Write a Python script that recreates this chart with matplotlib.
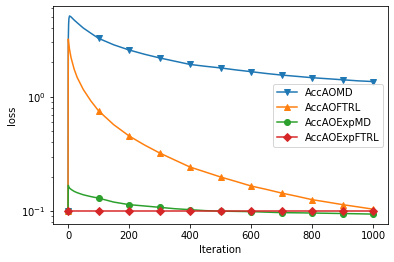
import matplotlib
matplotlib.use('Agg')
import matplotlib.pyplot as plt

iters = [0, 1, 2, 3, 5, 10, 20, 30, 50, 75, 100, 150, 200, 250, 300, 350, 400,
         450, 500, 550, 600, 650, 700, 750, 800, 850, 900, 950, 1000]

acc_aomd = [0.1, 3.2, 4.3, 4.85, 5.1, 5.0, 4.7, 4.45, 4.0, 3.6, 3.25, 2.85, 2.57,
            2.36, 2.19, 2.05, 1.92, 1.85, 1.79, 1.72, 1.66, 1.6, 1.55, 1.51,
            1.47, 1.44, 1.41, 1.38, 1.36]
acc_aoftrl = [0.1, 3.2, 3.0, 2.85, 2.6, 2.2, 1.75, 1.48, 1.16, 0.92, 0.755, 0.57,
              0.455, 0.38, 0.323, 0.28, 0.243, 0.22, 0.199, 0.182, 0.166, 0.155,
              0.144, 0.135, 0.126, 0.12, 0.114, 0.109, 0.104]
acc_aoexpmd = [0.1, 0.168, 0.165, 0.162, 0.159, 0.155, 0.149, 0.145, 0.139, 0.134,
               0.130, 0.12, 0.114, 0.111, 0.108, 0.105, 0.103, 0.101, 0.100,
               0.0995, 0.099, 0.098, 0.097, 0.0967, 0.0963, 0.0958, 0.0953,
               0.0948, 0.0942]
acc_aoexpftrl = [0.1] * len(iters)

series = [
    ('AccAOMD', acc_aomd, 'v'),
    ('AccAOFTRL', acc_aoftrl, '^'),
    ('AccAOExpMD', acc_aoexpmd, 'o'),
    ('AccAOExpFTRL', acc_aoexpftrl, 'D'),
]

marks = [i for i, t in enumerate(iters) if t % 100 == 0]

fig = plt.figure(figsize=(394 / 72, 262 / 72), dpi=72)
ax = fig.add_axes([0.1339, 0.145, 0.8516, 0.832])
for name, vals, m in series:
    ax.plot(iters, vals, marker=m, markevery=marks, label=name)
ax.set_yscale('log')
ax.set_xlabel('Iteration')
ax.set_ylabel('loss')
ax.legend(loc='center right')
fig.savefig('out.png', dpi=72)
